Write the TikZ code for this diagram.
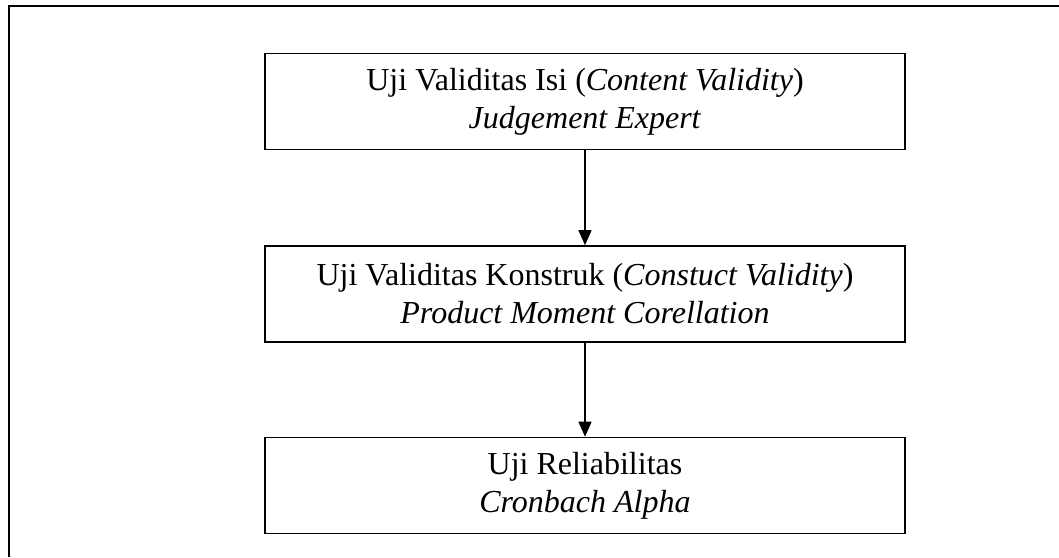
\documentclass[tikz,border=0pt]{standalone}
\usepackage{fontspec}
\setmainfont{Liberation Serif}
\usetikzlibrary{arrows.meta}
\begin{document}
\begin{tikzpicture}[x=1pt,y=-1pt,
  boxstyle/.style={draw,line width=1.6pt,minimum width=640pt,minimum height=96pt,align=center,inner sep=0pt,font=\fontsize{32}{38}\selectfont},
  arrowstyle/.style={line width=1.2pt,-{Triangle[length=15pt,width=13pt]}}]
\useasboundingbox (0,0) rectangle (1059,557);
\draw[line width=2pt] (9,557) -- (9,6) -- (1059,6);
\node[boxstyle] (b1) at (585,101.5) {Uji Validitas Isi (\textit{Content Validity})\\\textit{Judgement Expert}};
\node[boxstyle] (b2) at (585,294) {Uji Validitas Konstruk (\textit{Constuct Validity})\\\textit{Product Moment Corellation}};
\node[boxstyle] (b3) at (585,485.5) {Uji Reliabilitas\\\textit{Cronbach Alpha}};
\draw[arrowstyle] (b1) -- (b2);
\draw[arrowstyle] (b2) -- (b3);
\end{tikzpicture}
\end{document}
